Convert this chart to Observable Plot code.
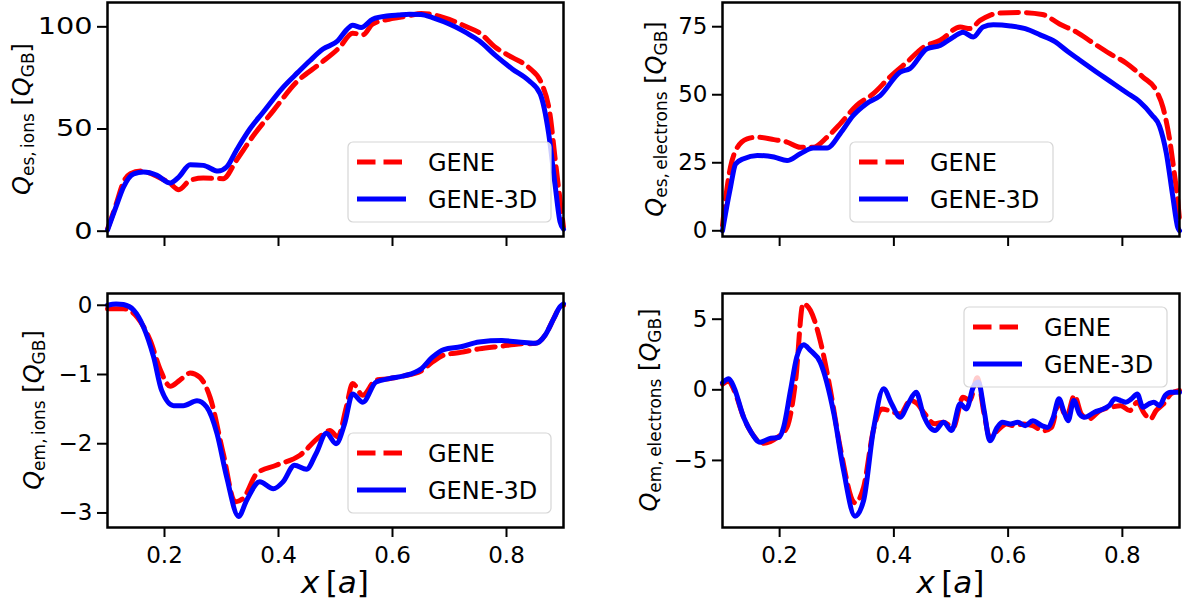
<!DOCTYPE html>
<html><head><meta charset="utf-8">
<script src="https://cdn.jsdelivr.net/npm/d3@7"></script>
<script src="https://cdn.jsdelivr.net/npm/@observablehq/plot@0.6"></script>
<style>
html,body{margin:0;padding:0;background:#fff;}
#chart{position:relative;width:1184px;height:607px;overflow:hidden;font-family:"DejaVu Sans",sans-serif;}
#chart svg{position:absolute;left:0;top:0;}
</style></head><body><div id="chart"></div>
<script>
// ---------- data (x in units of a, Q in units of Q_GB) ----------
const xTicks = [0.2, 0.4, 0.6, 0.8];
const seriesNames = ["GENE", "GENE-3D"];

const esIonsGENE = [[0.100,1],[0.115,13],[0.128,24],[0.140,28.1],[0.158,29.4],[0.187,26.8],[0.210,23.3],[0.225,20.3],[0.245,24.9],[0.268,26.0],[0.303,25.7],[0.326,34.6],[0.356,46.8],[0.391,59.0],[0.431,72.8],[0.472,81.8],[0.507,89.9],[0.530,96.9],[0.548,96.1],[0.565,101.3],[0.594,103.7],[0.610,104.5],[0.630,105.5],[0.650,106.5],[0.670,106],[0.690,104.5],[0.710,102.5],[0.730,100],[0.752,97.2],[0.781,89.9],[0.810,85.0],[0.839,80.1],[0.862,72.0],[0.877,55.8],[0.885,36.2],[0.894,15.1],[0.900,2]];
const esIons3D = [[0.100,0.5],[0.115,12],[0.128,21.6],[0.146,28.1],[0.163,28.9],[0.187,27.3],[0.210,23.6],[0.225,26.5],[0.245,32.5],[0.268,32.2],[0.294,29.4],[0.309,31.4],[0.326,39.5],[0.350,50.1],[0.373,58.2],[0.408,70.4],[0.434,77.7],[0.455,83.4],[0.478,89.1],[0.504,93.2],[0.519,98.4],[0.530,100.8],[0.545,99.7],[0.565,103.7],[0.594,105.4],[0.610,105.8],[0.630,106.2],[0.650,106],[0.670,104.5],[0.690,102.5],[0.710,100],[0.730,97],[0.752,93.2],[0.781,85.9],[0.810,79.4],[0.839,73.7],[0.859,67.2],[0.874,47.7],[0.885,23.2],[0.894,4.5],[0.900,1]];

const esElecGENE = [[0.100,2],[0.105,11.1],[0.114,23.4],[0.123,29.5],[0.143,33.8],[0.161,34.4],[0.190,33.5],[0.213,32.6],[0.236,30.7],[0.259,30.7],[0.283,34.4],[0.306,39.3],[0.335,46.1],[0.364,50.4],[0.393,56.5],[0.423,62.0],[0.452,67.5],[0.481,70.0],[0.516,74.9],[0.533,74.3],[0.551,77.3],[0.568,79.2],[0.585,80.0],[0.620,80.2],[0.660,79.5],[0.690,76],[0.720,73.0],[0.749,69.0],[0.778,65.1],[0.807,61.6],[0.836,56.5],[0.859,51.6],[0.871,45.4],[0.883,33.2],[0.891,21.0],[0.897,11.1],[0.900,4]];
const esElec3D = [[0.100,0],[0.105,6],[0.114,16.0],[0.123,24.6],[0.137,26.5],[0.161,27.7],[0.190,27.1],[0.213,25.8],[0.236,28.3],[0.259,30.4],[0.283,30.4],[0.306,35.7],[0.329,42.4],[0.352,46.7],[0.376,49.7],[0.411,58.3],[0.428,59.6],[0.458,66.9],[0.481,68.1],[0.504,71.2],[0.521,73.0],[0.539,71.2],[0.556,74.9],[0.574,75.7],[0.604,75.3],[0.630,74.3],[0.656,72.0],[0.682,69.5],[0.705,65.8],[0.725,62.8],[0.749,59.2],[0.778,55.0],[0.807,50.8],[0.830,47.5],[0.852,42.5],[0.865,38.5],[0.877,28.5],[0.888,13.0],[0.897,1.2],[0.900,0]];

const emIonsGENE = [[0.100,-0.05],[0.128,-0.05],[0.152,-0.17],[0.175,-0.51],[0.193,-0.94],[0.210,-1.17],[0.227,-1.08],[0.245,-0.98],[0.262,-1.04],[0.280,-1.33],[0.303,-2.14],[0.324,-2.84],[0.338,-2.79],[0.362,-2.43],[0.396,-2.31],[0.437,-2.17],[0.472,-1.90],[0.490,-1.81],[0.504,-1.90],[0.519,-1.47],[0.530,-1.13],[0.548,-1.30],[0.571,-1.08],[0.594,-1.06],[0.620,-1.02],[0.650,-0.95],[0.670,-0.82],[0.690,-0.72],[0.720,-0.68],[0.752,-0.63],[0.792,-0.59],[0.821,-0.56],[0.851,-0.55],[0.868,-0.43],[0.883,-0.19],[0.894,-0.02],[0.900,0.0]];
const emIons3D = [[0.100,0.0],[0.115,0.02],[0.128,0.01],[0.146,-0.07],[0.163,-0.31],[0.181,-0.75],[0.195,-1.23],[0.216,-1.45],[0.233,-1.45],[0.257,-1.38],[0.274,-1.47],[0.292,-1.85],[0.309,-2.48],[0.330,-3.05],[0.344,-2.82],[0.367,-2.55],[0.391,-2.65],[0.408,-2.55],[0.428,-2.31],[0.449,-2.37],[0.466,-2.14],[0.484,-1.85],[0.501,-2.00],[0.516,-1.71],[0.530,-1.28],[0.548,-1.40],[0.571,-1.11],[0.594,-1.06],[0.620,-1.02],[0.650,-0.92],[0.670,-0.75],[0.690,-0.64],[0.720,-0.60],[0.752,-0.53],[0.792,-0.51],[0.821,-0.53],[0.851,-0.55],[0.868,-0.43],[0.883,-0.19],[0.894,-0.02],[0.900,0.02]];

const emElecGENE = [[0.100,0.4],[0.111,0.6],[0.120,0.0],[0.137,-1.94],[0.150,-3.0],[0.172,-3.78],[0.196,-3.36],[0.213,-2.65],[0.228,0.66],[0.241,6.1],[0.254,5.62],[0.271,3.49],[0.289,-0.05],[0.306,-4.06],[0.332,-8.0],[0.347,-6.90],[0.364,-2.88],[0.379,-1.35],[0.399,-1.59],[0.411,-1.7],[0.429,-0.76],[0.441,-0.99],[0.452,-1.59],[0.472,-2.41],[0.487,-2.29],[0.504,-2.65],[0.521,-0.52],[0.533,-0.76],[0.546,0.85],[0.558,-1.71],[0.568,-3.37],[0.581,-2.90],[0.597,-2.42],[0.610,-2.54],[0.627,-2.42],[0.643,-2.54],[0.662,-2.90],[0.676,-2.66],[0.689,-0.88],[0.702,-1.95],[0.716,-0.40],[0.728,-1.71],[0.741,-2.07],[0.761,-1.47],[0.780,-1.24],[0.797,-1.12],[0.813,-1.47],[0.826,-0.88],[0.839,-1.71],[0.849,-2.07],[0.859,-1.47],[0.872,-1.00],[0.885,-0.29],[0.900,-0.05]];
const emElec3D = [[0.100,0.5],[0.111,0.78],[0.120,0.18],[0.137,-1.94],[0.150,-3.0],[0.166,-3.71],[0.181,-3.47],[0.199,-3.36],[0.207,-2.65],[0.219,-0.05],[0.230,2.31],[0.242,3.19],[0.254,2.78],[0.271,1.96],[0.295,-1.70],[0.312,-5.72],[0.332,-8.95],[0.347,-7.84],[0.364,-2.88],[0.382,0.07],[0.396,-0.99],[0.411,-1.94],[0.425,-0.99],[0.439,-0.17],[0.452,-1.82],[0.472,-2.88],[0.487,-2.29],[0.501,-2.88],[0.516,-0.99],[0.527,-1.35],[0.539,0.2],[0.548,0.55],[0.558,-1.47],[0.568,-3.61],[0.581,-2.66],[0.590,-2.30],[0.604,-2.42],[0.617,-2.30],[0.630,-2.54],[0.643,-2.19],[0.659,-2.54],[0.669,-2.66],[0.679,-1.95],[0.689,-0.64],[0.698,-1.59],[0.705,-2.19],[0.715,-0.76],[0.725,-1.71],[0.734,-1.95],[0.751,-1.59],[0.767,-1.35],[0.777,-1.12],[0.787,-0.64],[0.797,-0.76],[0.806,-0.88],[0.816,-0.64],[0.826,-0.29],[0.836,-1.24],[0.846,-1.00],[0.855,-0.88],[0.865,-1.12],[0.875,-0.40],[0.885,-0.17],[0.900,-0.17]];

const yTicksEsIons = [0, 50, 100];
const yTicksEsElec = [0, 25, 50, 75];
const yTicksEmIons = [0, -1, -2, -3];
const yTicksEmElec = [5, 0, -5];

// ---------- layout ----------
const W = 1184, H = 607;
const RED = "#ff0000", BLUE = "#0000ff";
const LW = 5, DASH = "18.5,8";
const FONT = '"DejaVu Sans", sans-serif';
const Y_TICK = 10, Y_PAD = 5;

const panels = [
  {gene: esIonsGENE, g3d: esIons3D, yDomain: [-2.6, 111.9], yTicks: yTicksEsIons, frame: [107, 563, 2, 236], xLab: false,
   sub: "es,\u2009ions", labX: 30, legend: [348, 142], yStretch: 1.25},
  {gene: esElecGENE, g3d: esElec3D, yDomain: [-2.1, 83.9], yTicks: yTicksEsElec, frame: [722, 1179, 2, 236], xLab: false,
   sub: "es,\u2009electrons", labX: 663, legend: [850, 142], yStretch: 1},
  {gene: emIonsGENE, g3d: emIons3D, yDomain: [-3.21, 0.17], yTicks: yTicksEmIons, frame: [107, 563, 293, 527], xLab: true,
   sub: "em,\u2009ions", labX: 41, legend: [348, 433], yStretch: 1},
  {gene: emElecGENE, g3d: emElec3D, yDomain: [-9.75, 6.82], yTicks: yTicksEmElec, frame: [722, 1179, 293, 527], xLab: true,
   sub: "em,\u2009electrons", labX: 657, legend: [964, 307], yStretch: 1}
];

const root = document.getElementById("chart");

// widen a group of tick labels horizontally, keeping their right edge fixed at ax
function stretchGroup(svg, selector, ax, sx) {
  if (sx === 1) return;
  svg.querySelectorAll(selector).forEach(g => {
    const tr = g.getAttribute("transform") || "";
    g.setAttribute("transform", `translate(${ax},0) scale(${sx},1) translate(${-ax},0) ${tr}`);
  });
}

function makePanel(p) {
  const [L, R, T, B] = p.frame;
  const svg = Plot.plot({
    width: W, height: H,
    marginLeft: L, marginRight: W - R, marginTop: T, marginBottom: H - B,
    style: {fontFamily: FONT, fontSize: "23px", background: "transparent", overflow: "visible", color: "black"},
    x: {domain: [0.1, 0.9]},
    y: {domain: p.yDomain},
    marks: [
      Plot.line(p.gene, {x: d => d[0], y: d => d[1], stroke: RED, strokeWidth: LW, strokeDasharray: DASH, curve: "monotone-x"}),
      Plot.line(p.g3d, {x: d => d[0], y: d => d[1], stroke: BLUE, strokeWidth: LW, curve: "monotone-x"}),
      Plot.frame({stroke: "black", strokeWidth: 2.5}),
      Plot.axisX({ticks: xTicks, tickSize: 10, tickPadding: 9, strokeWidth: 2, label: null,
                  tickFormat: p.xLab ? d3.format(".1f") : () => ""}),
      Plot.axisY({ticks: p.yTicks, tickSize: Y_TICK, tickPadding: Y_PAD, strokeWidth: 2, label: null, tickFormat: d3.format("d")})
    ]
  });
  stretchGroup(svg, 'g[aria-label="y-axis tick label"]', L - Y_TICK - Y_PAD, p.yStretch);
  return svg;
}

panels.forEach(p => root.appendChild(makePanel(p)));

// ---------- overlay: axis labels and legends ----------
const ov = d3.select(root).append("svg").attr("width", W).attr("height", H)
  .style("font-family", FONT).attr("fill", "black");

panels.forEach(p => {
  const [L, R, T, B] = p.frame;
  const cy = (T + B) / 2;
  const t = ov.append("text")
    .attr("transform", `translate(${p.labX},${cy}) rotate(-90)`)
    .attr("text-anchor", "middle").attr("font-size", 24);
  t.append("tspan").attr("font-style", "italic").text("Q");
  t.append("tspan").attr("font-size", 17).attr("dy", 4).text(p.sub);
  t.append("tspan").attr("dy", -4).text(" [");
  t.append("tspan").attr("font-style", "italic").text("Q");
  t.append("tspan").attr("font-size", 17).attr("dy", 4).text("GB");
  t.append("tspan").attr("dy", -4).text("]");

  if (p.xLab) {
    const xl = ov.append("text").attr("x", (L + R) / 2).attr("y", 593)
      .attr("text-anchor", "middle").attr("font-size", 31);
    xl.append("tspan").attr("font-style", "italic").text("x");
    xl.append("tspan").text("\u2009[");
    xl.append("tspan").attr("font-style", "italic").text("a");
    xl.append("tspan").text("]");
  }

  // legend
  const [lx, ly] = p.legend;
  const g = ov.append("g").attr("transform", `translate(${lx},${ly})`);
  g.append("rect").attr("width", 203).attr("height", 80).attr("rx", 5)
    .attr("fill", "white").attr("fill-opacity", 0.8).attr("stroke", "#d6d6d6").attr("stroke-width", 1.2);
  seriesNames.forEach((name, i) => {
    const yy = 20 + i * 37;
    g.append("line").attr("x1", 9).attr("x2", 58).attr("y1", yy).attr("y2", yy)
      .attr("stroke", i === 0 ? RED : BLUE).attr("stroke-width", LW)
      .attr("stroke-dasharray", i === 0 ? DASH : null);
    g.append("text").attr("x", 80).attr("y", yy).attr("dy", "0.36em")
      .attr("font-size", 24).text(name);
  });
});
</script></body></html>
